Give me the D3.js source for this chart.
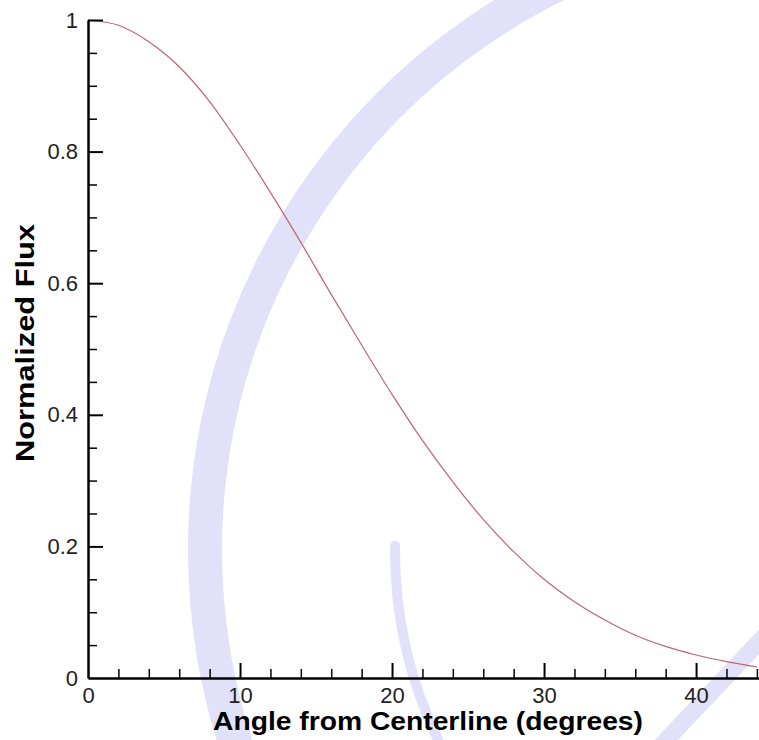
<!DOCTYPE html>
<html>
<head>
<meta charset="utf-8">
<script src="https://cdn.jsdelivr.net/npm/d3@7"></script>
<style>
  body { margin: 0; background: #fff; }
  svg { display: block; font-family: "Liberation Sans", Arial, sans-serif; }
  .tick text { font-size: 22px; fill: #222; }
  .axis path, .axis line { stroke: #000; }
  .title { font-size: 25px; font-weight: bold; fill: #000; }
</style>
</head>
<body>
<div id="chart"></div>
<script>
// values
const angles = [0, 2, 4, 6, 8, 10, 12, 14, 16, 18, 20, 22, 24, 26, 28, 30, 32, 34, 36, 38, 40, 42, 44];
const flux = [1.000, 0.992, 0.967, 0.929, 0.876, 0.810, 0.738, 0.662, 0.583, 0.506, 0.431, 0.361,
              0.298, 0.241, 0.192, 0.150, 0.116, 0.088, 0.065, 0.048, 0.035, 0.025, 0.017];
const xMajor = [0, 10, 20, 30, 40];
const xMinor = [2, 4, 6, 8, 12, 14, 16, 18, 22, 24, 26, 28, 32, 34, 36, 38, 42, 44];
const yMajor = [0, 0.2, 0.4, 0.6, 0.8, 1];
const yMinor = [0.05, 0.1, 0.15, 0.25, 0.3, 0.35, 0.45, 0.5, 0.55, 0.65, 0.7, 0.75, 0.85, 0.9, 0.95];

const width = 759, height = 740;
const margin = {top: 20, right: 0, bottom: 62, left: 88};

const svg = d3.select("#chart").append("svg")
  .attr("width", width)
  .attr("height", height);

const x = d3.scaleLinear().domain([0, 44.14]).range([margin.left, width - margin.right]);
const y = d3.scaleLinear().domain([0, 1]).range([height - margin.bottom, margin.top]);

// faint logo watermark behind the plot
const wm = svg.append("g").attr("fill", "none").attr("stroke", "#e1e1fa");
const big = d3.path();
big.arc(835, 550, 630, Math.PI * 0.78, Math.PI * 1.45);
wm.append("path").attr("d", big.toString()).attr("stroke-width", 34);
const small = d3.path();
small.arc(835, 550, 440, Math.PI * 0.85, Math.PI * 1.003);
wm.append("path").attr("d", small.toString()).attr("stroke-width", 10).attr("stroke-linecap", "round");
wm.append("line")
  .attr("x1", 655).attr("y1", 752).attr("x2", 772).attr("y2", 628)
  .attr("stroke-width", 17);

// curve
const line = d3.line()
  .x((d, i) => x(angles[i]))
  .y(d => y(d))
  .curve(d3.curveMonotoneX);

svg.append("path")
  .datum(flux)
  .attr("d", line)
  .attr("fill", "none")
  .attr("stroke", "#bb6673")
  .attr("stroke-width", 1.2);

// x axis
svg.append("g")
  .attr("class", "axis")
  .attr("transform", `translate(0,${y(0)})`)
  .call(d3.axisBottom(x).tickValues(xMinor).tickSize(-9).tickFormat("").tickSizeOuter(0))
  .call(g => g.selectAll(".tick line").attr("stroke-width", 1.5))
  .call(g => g.select(".domain").remove());

svg.append("g")
  .attr("class", "axis")
  .attr("transform", `translate(0,${y(0)})`)
  .call(d3.axisBottom(x).tickValues(xMajor).tickSize(-15).tickPadding(9).tickSizeOuter(0))
  .call(g => g.selectAll(".tick line").attr("stroke-width", 2).filter(d => d === 0).remove())
  .call(g => g.select(".domain").attr("stroke-width", 2.5));

// y axis
svg.append("g")
  .attr("class", "axis")
  .attr("transform", `translate(${x(0)},0)`)
  .call(d3.axisLeft(y).tickValues(yMinor).tickSize(-9).tickFormat("").tickSizeOuter(0))
  .call(g => g.selectAll(".tick line").attr("stroke-width", 1.5))
  .call(g => g.select(".domain").remove());

svg.append("g")
  .attr("class", "axis")
  .attr("transform", `translate(${x(0)},0)`)
  .call(d3.axisLeft(y).tickValues(yMajor).tickSize(-15).tickPadding(10).tickSizeOuter(0).tickFormat(d3.format("~g")))
  .call(g => g.selectAll(".tick line").attr("stroke-width", 2).filter(d => d === 0).remove())
  .call(g => g.select(".domain").attr("stroke-width", 2.5));

// titles
svg.append("text")
  .attr("class", "title")
  .attr("x", 428)
  .attr("y", 730)
  .attr("text-anchor", "middle")
  .attr("textLength", 430)
  .attr("lengthAdjust", "spacingAndGlyphs")
  .text("Angle from Centerline (degrees)");

svg.append("text")
  .attr("class", "title")
  .attr("transform", "translate(34,343) rotate(-90)")
  .attr("text-anchor", "middle")
  .attr("textLength", 238)
  .attr("lengthAdjust", "spacingAndGlyphs")
  .text("Normalized Flux");
</script>
</body>
</html>
